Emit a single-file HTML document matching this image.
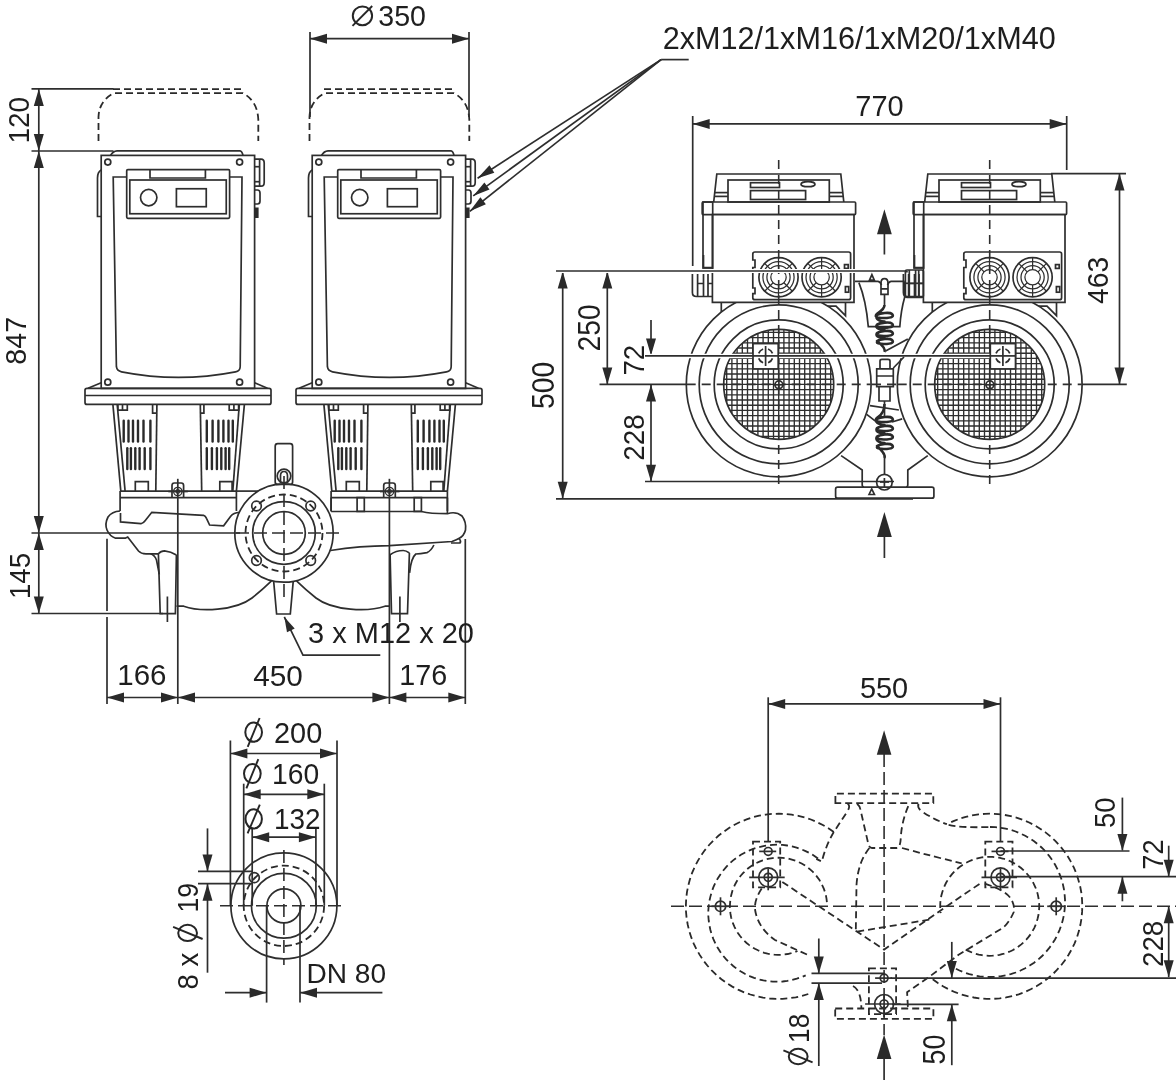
<!DOCTYPE html>
<html><head><meta charset="utf-8"><style>
html,body{margin:0;padding:0;background:#fff;}
svg{display:block;will-change:transform;}
.s{stroke:#2e2e2e;stroke-width:1.7;fill:none;}
.sf{stroke:none;fill:#2a2a2a;}
.st{stroke:#2e2e2e;stroke-width:1.25;fill:none;}
.w{stroke:#2e2e2e;stroke-width:1.7;fill:#fff;}
.d{stroke:#2a2a2a;stroke-width:1.8;fill:none;stroke-dasharray:7 4;}
.cl{stroke:#2e2e2e;stroke-width:1.6;fill:none;stroke-dasharray:13 5;}
.cl2{stroke:#2e2e2e;stroke-width:1.6;fill:none;stroke-dasharray:9 6;}
.f{fill:#2a2a2a;stroke:none;}
text{font-family:"Liberation Sans",sans-serif;fill:#1e1e1e;}
</style></head><body>
<svg width="1176" height="1080" viewBox="0 0 1176 1080">
<defs><pattern id="mesh0" width="5.2" height="5.2" patternUnits="userSpaceOnUse" x="778.6" y="384.4"><rect width="5.2" height="5.2" fill="#fff"/><path d="M0,0 H5.2 M0,0 V5.2" stroke="#1e1e1e" stroke-width="1.55" fill="none"/></pattern><pattern id="mesh211" width="5.2" height="5.2" patternUnits="userSpaceOnUse" x="778.6" y="384.4"><rect width="5.2" height="5.2" fill="#fff"/><path d="M0,0 H5.2 M0,0 V5.2" stroke="#1e1e1e" stroke-width="1.55" fill="none"/></pattern></defs>
<g transform="translate(0 0)">
<path class="d" d="M98.5,141 V117 Q99,101 113.7,93.2 H243 Q257.5,101 258.3,119.5 V141"/>
<line class="d" x1="113" y1="89.2" x2="241.5" y2="89.2"/>
<path class="s" d="M110.5,155.4 Q113,151 117,150.8 H240 Q242,151 243,155.4"/>
<rect class="s" x="101.2" y="155.4" width="153.4" height="233" rx="0"/>
<circle class="s" cx="107.8" cy="162.1" r="3"/>
<circle class="s" cx="239.6" cy="162.1" r="3"/>
<circle class="s" cx="107.8" cy="382.2" r="3"/>
<circle class="s" cx="239.6" cy="382.2" r="3"/>
<path class="s" d="M101.2,170 Q97.5,172 97.5,178 V216.5 H101.2"/>
<path class="s" d="M254.6,159.2 H261 Q264.2,159.2 264.2,163 V182.5 Q264.2,186.2 261,186.2 H254.6"/>
<line class="s" x1="259.6" y1="159.2" x2="259.6" y2="186.2"/>
<line class="s" x1="254.6" y1="166.7" x2="259.6" y2="166.7"/>
<line class="s" x1="254.6" y1="181.7" x2="259.6" y2="181.7"/>
<path class="s" d="M254.6,190 H257.5 Q260,190 260,193 V201 Q260,204 257.5,204 H254.6"/>
<rect class="sf" x="254.6" y="207.5" width="4" height="10.5" rx="0"/>
<path class="s" d="M126.7,177 H113.2 L116.4,366.7 Q117,371 121.5,371.8 Q178.3,383 235.5,371.8 Q240,371 240.2,366.7 L242,177 H229.6"/>
<rect class="s" x="126.7" y="169.6" width="102.9" height="48.7" rx="1.2"/>
<rect class="s" x="129.8" y="180" width="96.45" height="33.75" rx="0"/>
<path class="s" d="M150,169.6 V178 H205.4 V169.6"/>
<circle class="s" cx="148.7" cy="197.6" r="8.2"/>
<rect class="s" x="176.4" y="188.75" width="29.85" height="17.95" rx="0"/>
<path class="s" d="M101.2,382.8 L88,388.3"/>
<path class="s" d="M254.6,382.8 L267.5,388.3"/>
<path class="s" d="M87,388.3 H269 Q271,388.3 271,390.3 V402.4 Q271,404.4 269,404.4 H87 Q85,404.4 85,402.4 V390.3 Q85,388.3 87,388.3 Z"/>
<line class="s" x1="85" y1="395.5" x2="271" y2="395.5"/>
<line class="s" x1="112.9" y1="404.4" x2="120.8" y2="491.1"/>
<line class="s" x1="117.2" y1="404.4" x2="125.1" y2="491.1"/>
<line class="s" x1="156.9" y1="404.4" x2="155.8" y2="491.1"/>
<path class="s" d="M117.9,404.4 V410.2 H127.3 V404.4"/>
<line class="s" x1="122.5" y1="404.4" x2="122.5" y2="410.2"/>
<path class="s" d="M152.6,404.4 V413.1 H156.5"/>
<line class="s" x1="200.3" y1="404.4" x2="201.7" y2="491.1"/>
<path class="s" d="M200.3,413.1 H203.9 V404.4"/>
<path class="s" d="M229.2,404.4 V410.2 H238.6 V404.4"/>
<line class="s" x1="233.9" y1="404.4" x2="233.9" y2="410.2"/>
<line class="s" x1="239.3" y1="404.4" x2="232.8" y2="491.1"/>
<line class="s" x1="244.4" y1="404.4" x2="236.4" y2="491.1"/>
<rect class="sf" x="122.5" y="419.6" width="2.4" height="23.099999999999966" rx="1.2"/>
<rect class="sf" x="127.3" y="419.6" width="2.4" height="23.099999999999966" rx="1.2"/>
<rect class="sf" x="131.8" y="419.6" width="2.4" height="23.099999999999966" rx="1.2"/>
<rect class="sf" x="136.8" y="419.6" width="2.4" height="23.099999999999966" rx="1.2"/>
<rect class="sf" x="142.3" y="419.6" width="2.4" height="23.099999999999966" rx="1.2"/>
<rect class="sf" x="149.20000000000002" y="419.6" width="2.4" height="23.099999999999966" rx="1.2"/>
<rect class="sf" x="205.60000000000002" y="419.6" width="2.4" height="23.099999999999966" rx="1.2"/>
<rect class="sf" x="211.4" y="419.6" width="2.4" height="23.099999999999966" rx="1.2"/>
<rect class="sf" x="217.20000000000002" y="419.6" width="2.4" height="23.099999999999966" rx="1.2"/>
<rect class="sf" x="222.20000000000002" y="419.6" width="2.4" height="23.099999999999966" rx="1.2"/>
<rect class="sf" x="227.3" y="419.6" width="2.4" height="23.099999999999966" rx="1.2"/>
<rect class="sf" x="231.60000000000002" y="419.6" width="2.4" height="23.099999999999966" rx="1.2"/>
<rect class="sf" x="126.1" y="447" width="2.4" height="23.19999999999999" rx="1.2"/>
<rect class="sf" x="129.70000000000002" y="447" width="2.4" height="23.19999999999999" rx="1.2"/>
<rect class="sf" x="134.10000000000002" y="447" width="2.4" height="23.19999999999999" rx="1.2"/>
<rect class="sf" x="138.4" y="447" width="2.4" height="23.19999999999999" rx="1.2"/>
<rect class="sf" x="143.5" y="447" width="2.4" height="23.19999999999999" rx="1.2"/>
<rect class="sf" x="149.20000000000002" y="447" width="2.4" height="23.19999999999999" rx="1.2"/>
<rect class="sf" x="205.60000000000002" y="447" width="2.4" height="23.19999999999999" rx="1.2"/>
<rect class="sf" x="210.70000000000002" y="447" width="2.4" height="23.19999999999999" rx="1.2"/>
<rect class="sf" x="215.70000000000002" y="447" width="2.4" height="23.19999999999999" rx="1.2"/>
<rect class="sf" x="220.10000000000002" y="447" width="2.4" height="23.19999999999999" rx="1.2"/>
<rect class="sf" x="224.4" y="447" width="2.4" height="23.19999999999999" rx="1.2"/>
<rect class="sf" x="228.0" y="447" width="2.4" height="23.19999999999999" rx="1.2"/>
<path class="s" d="M135.3,491.1 V481.7 H148.3 V491.1"/>
<path class="s" d="M219.8,491.1 V481.7 H232.1 V491.1"/>
<line class="s" x1="120.1" y1="491.1" x2="236.4" y2="491.1"/>
<line class="s" x1="120.1" y1="497.6" x2="236.4" y2="497.6"/>
<line class="s" x1="120.1" y1="491.1" x2="120.1" y2="511"/>
<line class="s" x1="236.4" y1="491.1" x2="236.4" y2="511"/>
</g>
<g transform="translate(211 0)">
<path class="d" d="M98.5,141 V117 Q99,101 113.7,93.2 H243 Q257.5,101 258.3,119.5 V141"/>
<line class="d" x1="113" y1="89.2" x2="241.5" y2="89.2"/>
<path class="s" d="M110.5,155.4 Q113,151 117,150.8 H240 Q242,151 243,155.4"/>
<rect class="s" x="101.2" y="155.4" width="153.4" height="233" rx="0"/>
<circle class="s" cx="107.8" cy="162.1" r="3"/>
<circle class="s" cx="239.6" cy="162.1" r="3"/>
<circle class="s" cx="107.8" cy="382.2" r="3"/>
<circle class="s" cx="239.6" cy="382.2" r="3"/>
<path class="s" d="M101.2,170 Q97.5,172 97.5,178 V216.5 H101.2"/>
<path class="s" d="M254.6,159.2 H261 Q264.2,159.2 264.2,163 V182.5 Q264.2,186.2 261,186.2 H254.6"/>
<line class="s" x1="259.6" y1="159.2" x2="259.6" y2="186.2"/>
<line class="s" x1="254.6" y1="166.7" x2="259.6" y2="166.7"/>
<line class="s" x1="254.6" y1="181.7" x2="259.6" y2="181.7"/>
<path class="s" d="M254.6,190 H257.5 Q260,190 260,193 V201 Q260,204 257.5,204 H254.6"/>
<rect class="sf" x="254.6" y="207.5" width="4" height="10.5" rx="0"/>
<path class="s" d="M126.7,177 H113.2 L116.4,366.7 Q117,371 121.5,371.8 Q178.3,383 235.5,371.8 Q240,371 240.2,366.7 L242,177 H229.6"/>
<rect class="s" x="126.7" y="169.6" width="102.9" height="48.7" rx="1.2"/>
<rect class="s" x="129.8" y="180" width="96.45" height="33.75" rx="0"/>
<path class="s" d="M150,169.6 V178 H205.4 V169.6"/>
<circle class="s" cx="148.7" cy="197.6" r="8.2"/>
<rect class="s" x="176.4" y="188.75" width="29.85" height="17.95" rx="0"/>
<path class="s" d="M101.2,382.8 L88,388.3"/>
<path class="s" d="M254.6,382.8 L267.5,388.3"/>
<path class="s" d="M87,388.3 H269 Q271,388.3 271,390.3 V402.4 Q271,404.4 269,404.4 H87 Q85,404.4 85,402.4 V390.3 Q85,388.3 87,388.3 Z"/>
<line class="s" x1="85" y1="395.5" x2="271" y2="395.5"/>
<line class="s" x1="112.9" y1="404.4" x2="120.8" y2="491.1"/>
<line class="s" x1="117.2" y1="404.4" x2="125.1" y2="491.1"/>
<line class="s" x1="156.9" y1="404.4" x2="155.8" y2="491.1"/>
<path class="s" d="M117.9,404.4 V410.2 H127.3 V404.4"/>
<line class="s" x1="122.5" y1="404.4" x2="122.5" y2="410.2"/>
<path class="s" d="M152.6,404.4 V413.1 H156.5"/>
<line class="s" x1="200.3" y1="404.4" x2="201.7" y2="491.1"/>
<path class="s" d="M200.3,413.1 H203.9 V404.4"/>
<path class="s" d="M229.2,404.4 V410.2 H238.6 V404.4"/>
<line class="s" x1="233.9" y1="404.4" x2="233.9" y2="410.2"/>
<line class="s" x1="239.3" y1="404.4" x2="232.8" y2="491.1"/>
<line class="s" x1="244.4" y1="404.4" x2="236.4" y2="491.1"/>
<rect class="sf" x="122.5" y="419.6" width="2.4" height="23.099999999999966" rx="1.2"/>
<rect class="sf" x="127.3" y="419.6" width="2.4" height="23.099999999999966" rx="1.2"/>
<rect class="sf" x="131.8" y="419.6" width="2.4" height="23.099999999999966" rx="1.2"/>
<rect class="sf" x="136.8" y="419.6" width="2.4" height="23.099999999999966" rx="1.2"/>
<rect class="sf" x="142.3" y="419.6" width="2.4" height="23.099999999999966" rx="1.2"/>
<rect class="sf" x="149.20000000000002" y="419.6" width="2.4" height="23.099999999999966" rx="1.2"/>
<rect class="sf" x="205.60000000000002" y="419.6" width="2.4" height="23.099999999999966" rx="1.2"/>
<rect class="sf" x="211.4" y="419.6" width="2.4" height="23.099999999999966" rx="1.2"/>
<rect class="sf" x="217.20000000000002" y="419.6" width="2.4" height="23.099999999999966" rx="1.2"/>
<rect class="sf" x="222.20000000000002" y="419.6" width="2.4" height="23.099999999999966" rx="1.2"/>
<rect class="sf" x="227.3" y="419.6" width="2.4" height="23.099999999999966" rx="1.2"/>
<rect class="sf" x="231.60000000000002" y="419.6" width="2.4" height="23.099999999999966" rx="1.2"/>
<rect class="sf" x="126.1" y="447" width="2.4" height="23.19999999999999" rx="1.2"/>
<rect class="sf" x="129.70000000000002" y="447" width="2.4" height="23.19999999999999" rx="1.2"/>
<rect class="sf" x="134.10000000000002" y="447" width="2.4" height="23.19999999999999" rx="1.2"/>
<rect class="sf" x="138.4" y="447" width="2.4" height="23.19999999999999" rx="1.2"/>
<rect class="sf" x="143.5" y="447" width="2.4" height="23.19999999999999" rx="1.2"/>
<rect class="sf" x="149.20000000000002" y="447" width="2.4" height="23.19999999999999" rx="1.2"/>
<rect class="sf" x="205.60000000000002" y="447" width="2.4" height="23.19999999999999" rx="1.2"/>
<rect class="sf" x="210.70000000000002" y="447" width="2.4" height="23.19999999999999" rx="1.2"/>
<rect class="sf" x="215.70000000000002" y="447" width="2.4" height="23.19999999999999" rx="1.2"/>
<rect class="sf" x="220.10000000000002" y="447" width="2.4" height="23.19999999999999" rx="1.2"/>
<rect class="sf" x="224.4" y="447" width="2.4" height="23.19999999999999" rx="1.2"/>
<rect class="sf" x="228.0" y="447" width="2.4" height="23.19999999999999" rx="1.2"/>
<path class="s" d="M135.3,491.1 V481.7 H148.3 V491.1"/>
<path class="s" d="M219.8,491.1 V481.7 H232.1 V491.1"/>
<line class="s" x1="120.1" y1="491.1" x2="236.4" y2="491.1"/>
<line class="s" x1="120.1" y1="497.6" x2="236.4" y2="497.6"/>
<line class="s" x1="120.1" y1="491.1" x2="120.1" y2="511"/>
<line class="s" x1="236.4" y1="491.1" x2="236.4" y2="511"/>
</g>
<line class="s" x1="31.5" y1="88.9" x2="113.5" y2="88.9"/>
<line class="s" x1="31.5" y1="151" x2="113.5" y2="151"/>
<line class="s" x1="38.8" y1="88.9" x2="38.8" y2="151"/>
<polygon class="f" points="38.8,88.9 33.8,105.9 43.8,105.9"/>
<polygon class="f" points="38.8,151.0 33.8,134.0 43.8,134.0"/>
<line class="s" x1="38.8" y1="151" x2="38.8" y2="533"/>
<polygon class="f" points="38.8,151.0 33.8,168.0 43.8,168.0"/>
<polygon class="f" points="38.8,533.0 33.8,516.0 43.8,516.0"/>
<line class="s" x1="31.5" y1="533" x2="240" y2="533"/>
<line class="s" x1="38.8" y1="533" x2="38.8" y2="613.5"/>
<polygon class="f" points="38.8,533.0 33.8,550.0 43.8,550.0"/>
<polygon class="f" points="38.8,613.5 33.8,596.5 43.8,596.5"/>
<line class="s" x1="31.5" y1="613.5" x2="163" y2="613.5"/>
<line class="s" x1="310" y1="32" x2="310" y2="117"/>
<line class="s" x1="469" y1="32" x2="469" y2="117"/>
<line class="s" x1="310" y1="38.7" x2="469" y2="38.7"/>
<polygon class="f" points="310.0,38.7 327.0,33.7 327.0,43.7"/>
<polygon class="f" points="469.0,38.7 452.0,33.7 452.0,43.7"/>
<line class="s" x1="107" y1="538.8" x2="107" y2="611"/>
<line class="s" x1="107" y1="617" x2="107" y2="704"/>
<line class="s" x1="465.3" y1="539" x2="465.3" y2="704"/>
<line class="s" x1="107" y1="697.5" x2="465.3" y2="697.5"/>
<polygon class="f" points="107.0,697.5 124.0,692.5 124.0,702.5"/>
<polygon class="f" points="178.0,697.5 161.0,692.5 161.0,702.5"/>
<polygon class="f" points="178.0,697.5 195.0,692.5 195.0,702.5"/>
<polygon class="f" points="389.4,697.5 372.4,692.5 372.4,702.5"/>
<polygon class="f" points="389.4,697.5 406.4,692.5 406.4,702.5"/>
<polygon class="f" points="465.3,697.5 448.3,692.5 448.3,702.5"/>
<path class="s" d="M284.3,616.9 L303,655.2 H380.3"/>
<polygon class="f" points="284.3,616.9 294.7,628.5 287.0,632.3"/>
<circle class="s" cx="284" cy="533" r="49.2"/>
<circle class="d" cx="284" cy="533" r="38.5"/>
<circle class="s" cx="284" cy="533" r="31.3"/>
<circle class="s" cx="284" cy="533" r="21.3"/>
<circle class="s" cx="256.5" cy="506" r="4.8"/>
<circle class="s" cx="310.7" cy="506" r="4.8"/>
<circle class="s" cx="256.5" cy="560.5" r="4.8"/>
<circle class="s" cx="310.7" cy="560.5" r="4.8"/>
<line class="cl" x1="284" y1="476" x2="284" y2="600"/>
<line class="cl" x1="236" y1="533" x2="344" y2="533"/>
<rect class="s" x="275.2" y="443.7" width="17.4" height="40.8" rx="2.5"/>
<circle class="s" cx="284" cy="476" r="6.8"/>
<path class="s" d="M280.5,483 V476 Q280.5,471.5 284,471.5 Q287.5,471.5 287.5,476 V483"/>
<path class="s" d="M273.7,581.7 L276.6,614 H290.3 L293.2,581.7"/>
<line class="s" x1="236.4" y1="491.1" x2="258" y2="491.1"/>
<path class="s" d="M120.1,511 Q112,511.5 108,517 Q104.5,524 107,530 Q109.5,536 115.6,538.2 H125.3 L127.7,537 L138.5,551 Q141,553.8 146,553.8 H158.4"/>
<path class="s" d="M150.5,553.8 Q154.5,555 156.5,560 L159.3,574.3"/>
<path class="s" d="M158.4,553.8 Q161,550.8 164.5,550.8 Q171,551.5 176.4,555 M158.4,553.8 L160.2,613.6 H175.4 L176.4,555"/>
<path class="s" d="M120.5,512.9 V521.9 L140.9,523.7 Q143.5,523 145.1,520.7 L151.8,512.3 L203.5,515.3 Q205.5,516 206.5,518.3 L209.6,525 L223.6,525.8 L230.7,516.2 Q233.5,512.6 239.5,512.3"/>
<path class="s" d="M176.5,606.2 H183.7 C200,612 235,611 252,598 Q262,590 271.5,580.8"/>
<path class="s" d="M296.5,580.8 Q306,590 316,598 C333,611 368,612 385,606.2 H390"/>
<line class="s" x1="331.1" y1="497.6" x2="331.1" y2="511.4"/>
<line class="s" x1="447.4" y1="497.6" x2="447.4" y2="513.5"/>
<rect class="s" x="357.1" y="497.6" width="7.2" height="13.8" rx="0"/>
<rect class="s" x="414.2" y="497.6" width="7.2" height="13.8" rx="0"/>
<path class="s" d="M331.1,511.5 H421.4 Q430,513.7 447.4,513.7 Q456,511 462,516 Q466.5,522 465.5,530 Q464,536 458.9,538.5 Q461.5,541 460,543 H451"/>
<path class="s" d="M330.4,550.5 Q360,546 389.4,545.7 L452,541.5 Q456,540 458.9,538.5"/>
<path class="s" d="M433.9,545 Q431,551 427,552.6 Q420,554 415.8,554 Q411,558 409.6,572.8"/>
<path class="s" d="M390.1,554.7 Q396,550.5 403.3,550.5 Q406,550.5 409.4,553 M390.1,554.7 L391.5,613.7 H407.5 L409.4,553"/>
<path class="s" d="M172.0,497.6 V485.5 Q172.0,483 174.3,483 H181.3 Q183.60000000000002,483 183.60000000000002,485.5 V497.6"/>
<circle class="st" cx="177.8" cy="491.5" r="4.2"/>
<circle class="st" cx="177.8" cy="491.5" r="1.8"/>
<line class="s" x1="168.3" y1="491.5" x2="187.8" y2="491.5"/>
<path class="s" d="M383.7,497.6 V485.5 Q383.7,483 386.0,483 H393.0 Q395.3,483 395.3,485.5 V497.6"/>
<circle class="st" cx="389.5" cy="491.5" r="4.2"/>
<circle class="st" cx="389.5" cy="491.5" r="1.8"/>
<line class="s" x1="380.0" y1="491.5" x2="399.5" y2="491.5"/>
<line class="s" x1="177.8" y1="478.8" x2="177.8" y2="704"/>
<line class="s" x1="389.4" y1="478.8" x2="389.4" y2="704"/>
<line class="s" x1="167.4" y1="596.5" x2="167.4" y2="622"/>
<line class="s" x1="399.9" y1="596.4" x2="399.9" y2="622"/>
<line class="s" x1="661.1" y1="59.6" x2="688.7" y2="59.6"/>
<line class="s" x1="661.1" y1="59.6" x2="477.6" y2="178.2"/>
<polygon class="f" points="477.6,178.2 489.5,165.3 494.3,172.7"/>
<line class="s" x1="661.1" y1="59.6" x2="473.2" y2="195.9"/>
<polygon class="f" points="473.2,195.9 484.4,182.4 489.5,189.5"/>
<line class="s" x1="661.1" y1="59.6" x2="469.8" y2="211.3"/>
<polygon class="f" points="469.8,211.3 480.4,197.3 485.9,204.2"/>
<line class="s" x1="692.7" y1="116" x2="692.7" y2="266"/>
<line class="s" x1="1066.7" y1="116" x2="1066.7" y2="170"/>
<line class="s" x1="692.7" y1="123.9" x2="1066.7" y2="123.9"/>
<polygon class="f" points="692.7,123.9 709.7,118.9 709.7,128.9"/>
<polygon class="f" points="1066.7,123.9 1049.7,118.9 1049.7,128.9"/>
<line class="s" x1="1051" y1="173.6" x2="1126" y2="173.6"/>
<line class="s" x1="1119.5" y1="173.6" x2="1119.5" y2="384.4"/>
<polygon class="f" points="1119.5,173.6 1114.5,190.6 1124.5,190.6"/>
<polygon class="f" points="1119.5,384.4 1114.5,367.4 1124.5,367.4"/>
<line class="s" x1="556" y1="271.6" x2="907.8" y2="271.6"/>
<line class="s" x1="556" y1="498.8" x2="913" y2="498.8"/>
<line class="s" x1="562.7" y1="271.6" x2="562.7" y2="498.8"/>
<polygon class="f" points="562.7,271.6 557.7,288.6 567.7,288.6"/>
<polygon class="f" points="562.7,498.8 557.7,481.8 567.7,481.8"/>
<line class="s" x1="607.3" y1="271.6" x2="607.3" y2="384.4"/>
<polygon class="f" points="607.3,271.6 602.3,288.6 612.3,288.6"/>
<polygon class="f" points="607.3,384.4 602.3,367.4 612.3,367.4"/>
<line class="s" x1="599.5" y1="384.4" x2="692" y2="384.4"/>
<line class="cl2" x1="692" y1="384.4" x2="1066" y2="384.4"/>
<line class="s" x1="1066" y1="384.4" x2="1126.8" y2="384.4"/>
<line class="s" x1="651" y1="320" x2="651" y2="355.5"/>
<polygon class="f" points="651.0,355.5 646.0,338.5 656.0,338.5"/>
<line class="s" x1="651" y1="384.4" x2="651" y2="481.8"/>
<polygon class="f" points="651.0,384.4 646.0,401.4 656.0,401.4"/>
<polygon class="f" points="651.0,481.8 646.0,464.8 656.0,464.8"/>
<line class="s" x1="645" y1="481.5" x2="894" y2="481.5"/>
<g transform="translate(0 0)">
<path class="s" d="M721.3,302.4 V315.7 H738.3 M722,311.3 L728,311.7 L739.8,306.1 H836 L845.5,315.6 V302.4"/>
<circle class="w" cx="778.7" cy="384.4" r="92.4"/>
<circle class="s" cx="778.7" cy="384.4" r="79.5"/>
<circle class="s" cx="778.7" cy="384.4" r="64.5"/>
<line x1="686.7" y1="384.4" x2="870.7" y2="384.4" class="cl2"/>
<path d="M726.70,366.48V402.32M760.78,332.40H796.62M731.90,355.51V413.29M749.81,337.60H807.59M737.10,348.42V420.38M742.72,342.80H814.68M742.30,343.17V425.63M737.47,348.00H819.93M747.50,339.11V429.69M733.41,353.20H823.99M752.70,335.93V432.87M730.23,358.40H827.17M757.90,333.48V435.32M727.78,363.60H829.62M763.10,331.66V437.14M725.96,368.80H831.44M768.30,330.39V438.41M724.69,374.00H832.71M773.50,329.65V439.15M723.95,379.20H833.45M778.70,329.40V439.40M723.70,384.40H833.70M783.90,329.65V439.15M723.95,389.60H833.45M789.10,330.39V438.41M724.69,394.80H832.71M794.30,331.66V437.14M725.96,400.00H831.44M799.50,333.48V435.32M727.78,405.20H829.62M804.70,335.93V432.87M730.23,410.40H827.17M809.90,339.11V429.69M733.41,415.60H823.99M815.10,343.17V425.63M737.47,420.80H819.93M820.30,348.42V420.38M742.72,426.00H814.68M825.50,355.51V413.29M749.81,431.20H807.59M830.70,366.48V402.32M760.78,436.40H796.62" style="stroke:#2e2e2e;stroke-width:1.35;fill:none"/>
<circle class="s" cx="778.7" cy="384.4" r="55"/>
<circle class="w" cx="778.9000000000001" cy="384.79999999999995" r="3.9"/>
<line class="s" x1="773.7" y1="384.79999999999995" x2="783.7" y2="384.79999999999995"/>
<line class="s" x1="778.9000000000001" y1="379.4" x2="778.9000000000001" y2="389.4"/>
<path class="s" d="M713.7,202 L716.8,174 H840.8 L843.8,202"/>
<rect class="s" x="728" y="180" width="101.3" height="22" rx="0"/>
<rect class="s" x="750.5" y="182.7" width="29" height="4.8" rx="0"/>
<rect class="s" x="750.5" y="190.6" width="55.1" height="8.9" rx="0"/>
<ellipse class="s" cx="808" cy="184.2" rx="7" ry="2.5"/>
<line class="s" x1="714" y1="192.6" x2="728" y2="192.6"/>
<line class="s" x1="714" y1="196.4" x2="728" y2="196.4"/>
<line class="s" x1="829.3" y1="192.6" x2="843" y2="192.6"/>
<line class="s" x1="829.3" y1="196.4" x2="843" y2="196.4"/>
<rect class="s" x="702.2" y="202" width="153.4" height="12.6" rx="1"/>
<path class="w" d="M712.4,214.6 V302.4 H854 V214.6 Z"/>
<rect class="s" x="703" y="202" width="9.7" height="66" rx="0"/>
<path class="s" d="M755,252 H848.6 Q850.6,252 850.6,254 V297.7 Q850.6,299.7 848.6,299.7 H755 Q752.8,299.7 752.8,297.7 V293.6 H755 V288 H752.8 V267.5 H755 V260 H752.8 V254 Q752.8,252 755,252 Z"/>
<rect class="s" x="844.5" y="264.6" width="3.7" height="3.8" rx="0"/>
<rect class="s" x="845.4" y="286.6" width="3.3" height="5.6" rx="0"/>
<circle class="s" cx="778.5" cy="277.3" r="19.6"/>
<circle class="st" cx="778.5" cy="277.3" r="15.6"/>
<circle class="st" cx="778.5" cy="277.3" r="11.6"/>
<circle class="st" cx="778.5" cy="277.3" r="7.7"/>
<line class="st" x1="783.9" y1="282.7" x2="792.4" y2="291.2"/>
<line class="st" x1="778.5" y1="285.0" x2="778.5" y2="296.9"/>
<line class="st" x1="773.1" y1="282.7" x2="764.6" y2="291.2"/>
<line class="st" x1="773.1" y1="271.9" x2="764.6" y2="263.4"/>
<line class="st" x1="778.5" y1="269.6" x2="778.5" y2="257.7"/>
<line class="st" x1="783.9" y1="271.9" x2="792.4" y2="263.4"/>
<circle class="s" cx="821.6" cy="277.3" r="19.6"/>
<circle class="st" cx="821.6" cy="277.3" r="15.6"/>
<circle class="st" cx="821.6" cy="277.3" r="11.6"/>
<circle class="st" cx="821.6" cy="277.3" r="7.7"/>
<line class="st" x1="827.0" y1="282.7" x2="835.5" y2="291.2"/>
<line class="st" x1="821.6" y1="285.0" x2="821.6" y2="296.9"/>
<line class="st" x1="816.2" y1="282.7" x2="807.7" y2="291.2"/>
<line class="st" x1="816.2" y1="271.9" x2="807.7" y2="263.4"/>
<line class="st" x1="821.6" y1="269.6" x2="821.6" y2="257.7"/>
<line class="st" x1="827.0" y1="271.9" x2="835.5" y2="263.4"/>
<line class="cl2" x1="778.7" y1="160" x2="778.7" y2="490"/>
<path class="s" d="M692.4,273.9 V292.5 Q692.4,296.5 696.4,296.5 H712.4 M697.6,273.9 V296.5 M703.5,273.9 V296.5 M708,273.9 V296.5 M697.6,283.5 H703.5 M708,283.5 H712.4"/>
<path class="s" d="M703.5,255 V267.6 H712.4"/>
</g>
<g transform="translate(211 0)">
<path class="s" d="M721.3,302.4 V315.7 H738.3 M722,311.3 L728,311.7 L739.8,306.1 H836 L845.5,315.6 V302.4"/>
<circle class="w" cx="778.7" cy="384.4" r="92.4"/>
<circle class="s" cx="778.7" cy="384.4" r="79.5"/>
<circle class="s" cx="778.7" cy="384.4" r="64.5"/>
<line x1="686.7" y1="384.4" x2="870.7" y2="384.4" class="cl2"/>
<path d="M726.70,366.48V402.32M760.78,332.40H796.62M731.90,355.51V413.29M749.81,337.60H807.59M737.10,348.42V420.38M742.72,342.80H814.68M742.30,343.17V425.63M737.47,348.00H819.93M747.50,339.11V429.69M733.41,353.20H823.99M752.70,335.93V432.87M730.23,358.40H827.17M757.90,333.48V435.32M727.78,363.60H829.62M763.10,331.66V437.14M725.96,368.80H831.44M768.30,330.39V438.41M724.69,374.00H832.71M773.50,329.65V439.15M723.95,379.20H833.45M778.70,329.40V439.40M723.70,384.40H833.70M783.90,329.65V439.15M723.95,389.60H833.45M789.10,330.39V438.41M724.69,394.80H832.71M794.30,331.66V437.14M725.96,400.00H831.44M799.50,333.48V435.32M727.78,405.20H829.62M804.70,335.93V432.87M730.23,410.40H827.17M809.90,339.11V429.69M733.41,415.60H823.99M815.10,343.17V425.63M737.47,420.80H819.93M820.30,348.42V420.38M742.72,426.00H814.68M825.50,355.51V413.29M749.81,431.20H807.59M830.70,366.48V402.32M760.78,436.40H796.62" style="stroke:#2e2e2e;stroke-width:1.35;fill:none"/>
<circle class="s" cx="778.7" cy="384.4" r="55"/>
<circle class="w" cx="778.9000000000001" cy="384.79999999999995" r="3.9"/>
<line class="s" x1="773.7" y1="384.79999999999995" x2="783.7" y2="384.79999999999995"/>
<line class="s" x1="778.9000000000001" y1="379.4" x2="778.9000000000001" y2="389.4"/>
<path class="s" d="M713.7,202 L716.8,174 H840.8 L843.8,202"/>
<rect class="s" x="728" y="180" width="101.3" height="22" rx="0"/>
<rect class="s" x="750.5" y="182.7" width="29" height="4.8" rx="0"/>
<rect class="s" x="750.5" y="190.6" width="55.1" height="8.9" rx="0"/>
<ellipse class="s" cx="808" cy="184.2" rx="7" ry="2.5"/>
<line class="s" x1="714" y1="192.6" x2="728" y2="192.6"/>
<line class="s" x1="714" y1="196.4" x2="728" y2="196.4"/>
<line class="s" x1="829.3" y1="192.6" x2="843" y2="192.6"/>
<line class="s" x1="829.3" y1="196.4" x2="843" y2="196.4"/>
<rect class="s" x="702.2" y="202" width="153.4" height="12.6" rx="1"/>
<path class="w" d="M712.4,214.6 V302.4 H854 V214.6 Z"/>
<rect class="s" x="703" y="202" width="9.7" height="66" rx="0"/>
<path class="s" d="M755,252 H848.6 Q850.6,252 850.6,254 V297.7 Q850.6,299.7 848.6,299.7 H755 Q752.8,299.7 752.8,297.7 V293.6 H755 V288 H752.8 V267.5 H755 V260 H752.8 V254 Q752.8,252 755,252 Z"/>
<rect class="s" x="844.5" y="264.6" width="3.7" height="3.8" rx="0"/>
<rect class="s" x="845.4" y="286.6" width="3.3" height="5.6" rx="0"/>
<circle class="s" cx="778.5" cy="277.3" r="19.6"/>
<circle class="st" cx="778.5" cy="277.3" r="15.6"/>
<circle class="st" cx="778.5" cy="277.3" r="11.6"/>
<circle class="st" cx="778.5" cy="277.3" r="7.7"/>
<line class="st" x1="783.9" y1="282.7" x2="792.4" y2="291.2"/>
<line class="st" x1="778.5" y1="285.0" x2="778.5" y2="296.9"/>
<line class="st" x1="773.1" y1="282.7" x2="764.6" y2="291.2"/>
<line class="st" x1="773.1" y1="271.9" x2="764.6" y2="263.4"/>
<line class="st" x1="778.5" y1="269.6" x2="778.5" y2="257.7"/>
<line class="st" x1="783.9" y1="271.9" x2="792.4" y2="263.4"/>
<circle class="s" cx="821.6" cy="277.3" r="19.6"/>
<circle class="st" cx="821.6" cy="277.3" r="15.6"/>
<circle class="st" cx="821.6" cy="277.3" r="11.6"/>
<circle class="st" cx="821.6" cy="277.3" r="7.7"/>
<line class="st" x1="827.0" y1="282.7" x2="835.5" y2="291.2"/>
<line class="st" x1="821.6" y1="285.0" x2="821.6" y2="296.9"/>
<line class="st" x1="816.2" y1="282.7" x2="807.7" y2="291.2"/>
<line class="st" x1="816.2" y1="271.9" x2="807.7" y2="263.4"/>
<line class="st" x1="821.6" y1="269.6" x2="821.6" y2="257.7"/>
<line class="st" x1="827.0" y1="271.9" x2="835.5" y2="263.4"/>
<line class="cl2" x1="778.7" y1="160" x2="778.7" y2="490"/>
<path class="s" d="M692.4,273.9 V292.5 Q692.4,296.5 696.4,296.5 H712.4 M697.6,273.9 V296.5 M703.5,273.9 V296.5 M708,273.9 V296.5 M697.6,283.5 H703.5 M708,283.5 H712.4"/>
<path class="s" d="M703.5,255 V267.6 H712.4"/>
</g>
<line x1="645" y1="355.9" x2="1014" y2="355.9" style="stroke:#fff;stroke-width:4.5"/>
<line class="s" x1="645" y1="355.9" x2="1014" y2="355.9"/>
<rect class="w" x="753" y="343.6" width="25.2" height="25.3" rx="0"/>
<path class="s" d="M758.7,353.4 A7.3,7.3 0 0 1 763.1,349.0"/>
<path class="s" d="M768.1,349.0 A7.3,7.3 0 0 1 772.5,353.4"/>
<path class="s" d="M763.1,362.8 A7.3,7.3 0 0 1 758.7,358.4"/>
<path class="s" d="M772.5,358.4 A7.3,7.3 0 0 1 768.1,362.8"/>
<line class="s" x1="765.6" y1="346" x2="765.6" y2="366"/>
<line class="s" x1="753" y1="355.9" x2="778.2" y2="355.9"/>
<rect class="w" x="990.3" y="343.6" width="25.2" height="25.3" rx="0"/>
<path class="s" d="M996.0,353.4 A7.3,7.3 0 0 1 1000.4,349.0"/>
<path class="s" d="M1005.4,349.0 A7.3,7.3 0 0 1 1009.8,353.4"/>
<path class="s" d="M1000.4,362.8 A7.3,7.3 0 0 1 996.0,358.4"/>
<path class="s" d="M1009.8,358.4 A7.3,7.3 0 0 1 1005.4,362.8"/>
<line class="s" x1="1002.9" y1="346" x2="1002.9" y2="366"/>
<line class="s" x1="990.3" y1="355.9" x2="1015.5" y2="355.9"/>
<line x1="556" y1="271" x2="905.4" y2="271" style="stroke:#fff;stroke-width:4.2"/>
<line class="s" x1="556" y1="271" x2="905.4" y2="271"/>
<path class="s" d="M855,281.4 H877.8 Q880,281.4 881.5,285 M887.5,285 Q889,281.4 891.2,281.4 H904.6"/>
<path class="s" d="M858.9,282.6 Q866,300 868.3,326.7 H899.8 Q901,310 904.6,297.5 V281.4"/>
<path class="s" d="M869.5,280.2 L871.9,274.7 L874.3,280.2 Z"/>
<path class="s" d="M881,288.9 V283 Q881,278.6 884.5,278.6 Q888,278.6 888,283 V294.4 H881 Z M881,288.9 H888"/>
<rect class="s" x="905.4" y="270" width="18" height="27.5" rx="1.5"/>
<line class="s" x1="909.3" y1="270" x2="909.3" y2="297.5"/>
<line class="s" x1="915.6" y1="270" x2="915.6" y2="297.5"/>
<line class="s" x1="918.7" y1="270" x2="918.7" y2="297.5"/>
<line class="s" x1="905.4" y1="283.3" x2="923.5" y2="283.3"/>
<line class="s" x1="884.5" y1="294.4" x2="884.5" y2="305"/>
<path d="M884.5,305 Q884.5,309 878,313 C874,316 875,318 884,318 C893,318 894,316 892,314 C890,312 880,313 877,315 C874,319.8 882,321.6 884.5,321.6 C874,325.6 875,327.6 884,327.6 C893,327.6 894,325.6 892,323.6 C890,321.6 880,322.6 877,324.6 C874,328.8 882,330 884.5,330 C874,334 875,336 884,336 C893,336 894,334 892,332 C890,330 880,331 877,333 C874,337.0 882,338 884.5,338 C874,342 875,344 884,344 C893,344 894,342 892,340 C890,338 880,339 877,341 Q886,348 884.5,352" style="stroke:#2a2a2a;stroke-width:2.6;fill:none;stroke-linejoin:round"/>
<path d="M884.5,404 Q884.5,413 878,417 C874,420 875,422 884,422 C893,422 894,420 892,418 C890,416 880,417 877,419 C874,423.5 882,425 884.5,425 C874,429 875,431 884,431 C893,431 894,429 892,427 C890,425 880,426 877,428 C874,432.25 882,433.5 884.5,433.5 C874,437.5 875,439.5 884,439.5 C893,439.5 894,437.5 892,435.5 C890,433.5 880,434.5 877,436.5 C874,441.25 882,443 884.5,443 C874,447 875,449 884,449 C893,449 894,447 892,445 C890,443 880,444 877,446 Q886,454 884.5,458" style="stroke:#2a2a2a;stroke-width:2.6;fill:none;stroke-linejoin:round"/>
<path class="s" d="M880,368.9 V361 Q880,359.4 882,359.4 H888 Q890,359.4 890,361 V368.9 M876.7,368.9 H893.3 V386.7 H876.7 Z M879,386.7 V401 H890 V386.7 M876.7,376 H893.3"/>
<path class="s" d="M885.6,351 L907.8,338.9 M893.3,368 L904,357"/>
<path class="s" d="M870,405.6 L898.9,410 M866.7,414.4 L876.7,422.2 M892,422 L902.2,418.9"/>
<line class="s" x1="884.5" y1="401" x2="884.5" y2="416"/>
<line class="s" x1="884.5" y1="456" x2="884.5" y2="474.5"/>
<circle class="s" cx="884.4" cy="482.2" r="7.8"/>
<line class="s" x1="880" y1="482" x2="889" y2="482"/>
<line class="s" x1="884.4" y1="478" x2="884.4" y2="487"/>
<path class="s" d="M841.1,455.6 L862.2,470 V484.5 Q862.2,487.2 864,487.2 M927.8,455.6 L907.8,470 V484.5 Q907.8,487.2 906,487.2"/>
<rect class="s" x="835.6" y="487.2" width="98.3" height="11" rx="2"/>
<path class="s" d="M869,494.5 L871.7,489 L874.4,494.5 Z"/>
<line class="s" x1="884.4" y1="230" x2="884.4" y2="254.5"/>
<polygon class="f" points="884.4,209.2 877.0,234.2 891.8,234.2"/>
<line class="s" x1="884.4" y1="533" x2="884.4" y2="558"/>
<polygon class="f" points="884.4,512.0 877.0,537.0 891.8,537.0"/>
<circle class="s" cx="283.9" cy="905.8" r="53"/>
<circle class="d" cx="283.9" cy="905.8" r="40.2"/>
<circle class="s" cx="283.9" cy="905.8" r="32.4"/>
<circle class="s" cx="283.9" cy="905.8" r="17"/>
<circle class="s" cx="254.3" cy="877.7" r="5"/>
<line class="cl" x1="283.9" y1="850" x2="283.9" y2="965"/>
<line class="cl" x1="220" y1="905.8" x2="345" y2="905.8"/>
<line class="s" x1="230.4" y1="740.5" x2="230.4" y2="905.8"/>
<line class="s" x1="337" y1="740.5" x2="337" y2="905.8"/>
<line class="s" x1="230.4" y1="753.5" x2="337" y2="753.5"/>
<polygon class="f" points="230.4,753.5 247.4,748.5 247.4,758.5"/>
<polygon class="f" points="337.0,753.5 320.0,748.5 320.0,758.5"/>
<line class="s" x1="243.7" y1="783.7" x2="243.7" y2="905.8"/>
<line class="s" x1="324.3" y1="783.7" x2="324.3" y2="905.8"/>
<line class="s" x1="243.7" y1="794.3" x2="324.3" y2="794.3"/>
<polygon class="f" points="243.7,794.3 260.7,789.3 260.7,799.3"/>
<polygon class="f" points="324.3,794.3 307.3,789.3 307.3,799.3"/>
<line class="s" x1="252.2" y1="828.4" x2="252.2" y2="905.8"/>
<line class="s" x1="315.9" y1="828.4" x2="315.9" y2="905.8"/>
<line class="s" x1="252.2" y1="837.2" x2="315.9" y2="837.2"/>
<polygon class="f" points="252.2,837.2 269.2,832.2 269.2,842.2"/>
<polygon class="f" points="315.9,837.2 298.9,832.2 298.9,842.2"/>
<line class="s" x1="198" y1="871.4" x2="253" y2="871.4"/>
<line class="s" x1="198" y1="883.7" x2="253" y2="883.7"/>
<line class="s" x1="207.5" y1="828.4" x2="207.5" y2="871.4"/>
<polygon class="f" points="207.5,871.4 202.5,854.4 212.5,854.4"/>
<line class="s" x1="207.5" y1="883.7" x2="207.5" y2="972.7"/>
<polygon class="f" points="207.5,883.7 202.5,900.7 212.5,900.7"/>
<line class="s" x1="266.6" y1="905.8" x2="266.6" y2="1002.6"/>
<line class="s" x1="300" y1="905.8" x2="300" y2="1002.6"/>
<line class="s" x1="225" y1="992.7" x2="266.6" y2="992.7"/>
<polygon class="f" points="266.6,992.7 249.6,987.7 249.6,997.7"/>
<line class="s" x1="300" y1="992.7" x2="382.4" y2="992.7"/>
<polygon class="f" points="300.0,992.7 317.0,987.7 317.0,997.7"/>
<line class="s" x1="768.2" y1="697.3" x2="768.2" y2="841.7"/>
<line class="s" x1="1000.5" y1="697.3" x2="1000.5" y2="841.7"/>
<line class="s" x1="768.2" y1="703.9" x2="1000.5" y2="703.9"/>
<polygon class="f" points="768.2,703.9 785.2,698.9 785.2,708.9"/>
<polygon class="f" points="1000.5,703.9 983.5,698.9 983.5,708.9"/>
<line class="cl" x1="884.1" y1="754" x2="884.1" y2="1035"/>
<polygon class="f" points="884.1,730.2 876.8,754.7 891.4,754.7"/>
<line class="s" x1="884.1" y1="1058" x2="884.1" y2="1080"/>
<polygon class="f" points="884.1,1034.6 876.8,1059.1 891.4,1059.1"/>
<line class="cl" x1="671" y1="906.3" x2="1176" y2="906.3"/>
<path class="d" d="M833.8,832.1 L828.4,828.3 L822.8,825.0 L816.9,822.1 L810.9,819.5 L804.6,817.5 L798.3,815.8 L791.8,814.7 L785.3,814.0 L778.8,813.7 L772.2,813.9 L765.7,814.6 L759.2,815.7 L752.8,817.3 L746.6,819.4 L740.5,821.8 L734.6,824.7 L729.0,828.1 L723.6,831.8 L718.4,835.8 L713.6,840.3 L709.1,845.0 L704.9,850.1 L701.1,855.4 L697.7,861.1 L694.7,866.9 L692.1,872.9 L690.0,879.1 L688.3,885.5 L687.0,891.9 L686.2,898.4 L685.9,905.0 L686.0,911.5 L686.6,918.1 L687.7,924.5 L689.2,930.9 L691.2,937.2 L693.6,943.3 L696.4,949.2 L699.7,954.9 L703.3,960.4 L707.3,965.5 L711.7,970.4 L716.4,975.0 L721.4,979.2 L726.7,983.1 L732.3,986.6 L738.1,989.6 L744.1,992.3 L750.3,994.5 L756.6,996.3 L763.0,997.6 L769.5,998.5 L776.1,998.9 L782.6,998.8 L789.2,998.3 L795.7,997.3 L802.1,995.9 L808.3,994.0"/>
<path class="d" d="M818.0,858.5 L814.1,855.7 L809.9,853.2 L805.6,851.1 L801.2,849.2 L796.6,847.6 L792.0,846.4 L787.2,845.5 L782.5,844.9 L777.6,844.7 L772.8,844.8 L768.0,845.3 L763.3,846.1 L758.6,847.2 L754.0,848.6 L749.5,850.4 L745.1,852.5 L740.9,854.8 L736.9,857.5 L733.1,860.4 L729.5,863.6 L726.1,867.1 L723.0,870.8 L720.2,874.7 L717.6,878.7 L715.3,883.0 L713.3,887.4 L711.7,891.9 L710.4,896.6 L709.3,901.3 L708.7,906.0 L708.3,910.8 L708.3,915.7 L708.7,920.5 L709.4,925.3 L710.4,930.0 L711.7,934.6 L713.4,939.1 L715.4,943.5 L717.7,947.8 L720.2,951.8 L723.1,955.7 L726.2,959.4 L729.6,962.8 L733.2,966.0 L737.0,969.0 L741.0,971.6 L745.2,974.0 L749.6,976.1 L754.1,977.8 L758.7,979.3 L763.4,980.4 L768.1,981.1 L772.9,981.6 L777.8,981.7 L782.6,981.5 L787.4,980.9 L792.1,980.0 L796.8,978.7 L801.3,977.2 L805.7,975.3"/>
<path class="d" d="M826.9,902.1 L826.5,898.7 L825.9,895.4 L825.0,892.1 L823.9,888.9 L822.5,885.8 L821.0,882.7 L819.3,879.8 L817.3,877.1 L815.2,874.4 L812.9,871.9 L810.4,869.6 L807.7,867.5 L805.0,865.5 L802.1,863.8 L799.0,862.3 L795.9,860.9 L792.7,859.8 L789.4,858.9 L786.1,858.3 L782.7,857.9 L779.3,857.7 L776.0,857.8 L772.6,858.1 L769.2,858.6 L765.9,859.4 L762.7,860.3 L759.5,861.6 L756.4,863.0 L753.5,864.6 L750.6,866.5 L747.9,868.5 L745.4,870.8 L743.0,873.2 L740.7,875.7 L738.7,878.4 L736.8,881.3 L735.2,884.2 L733.8,887.3 L732.5,890.5 L731.6,893.7 L730.8,897.0 L730.3,900.4 L730.0,903.8 L729.9,907.1 L730.1,910.5 L730.5,913.9 L731.1,917.2 L732.0,920.5 L733.1,923.7 L734.5,926.8 L736.0,929.9 L737.7,932.8 L739.7,935.5 L741.8,938.2 L744.1,940.7 L746.6,943.0 L749.3,945.1 L752.0,947.1 L754.9,948.8 L758.0,950.3 L761.1,951.7 L764.3,952.8 L767.6,953.7 L770.9,954.3 L774.3,954.7 L777.7,954.9 L781.0,954.8 L784.4,954.5 L787.8,954.0 L791.1,953.2 L794.3,952.3 L797.5,951.0"/>
<path class="d" d="M761.7,888.5 Q754,900 755.1,910 Q758,928 775,940 L807.5,954.8"/>
<path class="d" d="M782.3,882 L884.1,949.6 L955.9,900 L982.3,882"/>
<path class="d" d="M869.4,848 Q858,862 856.5,885 L855.8,931.8 L929.7,919.6"/>
<path class="d" d="M847.6,803.8 Q851,806 847,812 L834,831.7 Q826,845 821.8,861.6 L816.3,858.9"/>
<path class="d" d="M857.1,803.8 Q860,806 861,812 L868,842.6 Q869,848 872,848 H897 Q900.5,848 900.9,836 Q902,820 909.3,803.8"/>
<path class="d" d="M918.4,803.8 Q917,808 922.4,811.8 Q935,820 946.9,824.2"/>
<path class="d" d="M902,848 Q935,857 961.7,863.3"/>
<path class="d" d="M835.4,803.1 V793.6 H933.3 V803.1 Z"/>
<path class="d" d="M932.7,979.3 L937.9,983.1 L943.4,986.5 L949.2,989.6 L955.1,992.2 L961.2,994.4 L967.5,996.2 L973.8,997.5 L980.2,998.4 L986.7,998.9 L993.2,998.8 L999.7,998.4 L1006.1,997.4 L1012.4,996.1 L1018.7,994.3 L1024.8,992.0 L1030.7,989.3 L1036.4,986.3 L1041.9,982.8 L1047.1,979.0 L1052.1,974.8 L1056.7,970.2 L1061.0,965.4 L1065.0,960.2 L1068.6,954.8 L1071.8,949.2 L1074.6,943.3 L1077.0,937.3 L1078.9,931.1 L1080.4,924.8 L1081.5,918.4 L1082.1,911.9 L1082.3,905.5 L1082.0,899.0 L1081.3,892.5 L1080.1,886.1 L1078.4,879.9 L1076.4,873.7 L1073.9,867.7 L1071.0,861.9 L1067.7,856.3 L1064.0,851.0 L1059.9,845.9 L1055.5,841.2 L1050.8,836.7 L1045.8,832.6 L1040.5,828.9 L1034.9,825.5 L1029.1,822.5 L1023.2,820.0 L1017.1,817.8 L1010.8,816.1 L1004.4,814.9 L998.0,814.1 L991.5,813.7 L985.0,813.8 L978.5,814.4 L972.1,815.4 L965.8,816.8 L959.6,818.7 L953.5,821.1 L947.7,823.8"/>
<path class="d" d="M948.6,824.9 Q962,828 990,827"/>
<path class="d" d="M990.0,827.0 L995.2,827.2 L1000.4,827.7 L1005.6,828.6 L1010.7,829.9 L1015.7,831.5 L1020.5,833.5 L1025.2,835.8 L1029.7,838.4 L1034.1,841.3 L1038.2,844.5 L1042.1,848.0 L1045.7,851.8 L1049.1,855.8 L1052.2,860.1 L1055.0,864.5 L1057.4,869.1 L1059.5,873.9 L1061.3,878.8 L1062.8,883.9 L1063.9,889.0 L1064.6,894.2 L1065.0,899.4 L1065.0,904.6 L1064.6,909.8 L1063.9,915.0 L1062.8,920.1 L1061.3,925.2 L1059.5,930.1 L1057.4,934.9 L1055.0,939.5 L1052.2,943.9 L1049.1,948.2 L1045.7,952.2 L1042.1,956.0 L1038.2,959.5 L1034.1,962.7 L1029.7,965.6 L1025.2,968.2 L1020.5,970.5 L1015.7,972.5 L1010.7,974.1 L1005.6,975.4 L1000.4,976.3 L995.2,976.8 L990.0,977.0 L984.8,976.8 L979.6,976.3 L974.4,975.4 L969.3,974.1 L964.3,972.5 L959.5,970.5 L954.8,968.2"/>
<path class="d" d="M965.7,949.6 L968.8,951.2 L972.0,952.5 L975.3,953.7 L978.7,954.6 L982.1,955.2 L985.6,955.6 L989.1,955.8 L992.6,955.7 L996.0,955.4 L999.5,954.8 L1002.9,954.0 L1006.2,953.0 L1009.4,951.7 L1012.6,950.2 L1015.6,948.5 L1018.5,946.5 L1021.3,944.4 L1023.9,942.1 L1026.3,939.6 L1028.6,936.9 L1030.7,934.1 L1032.5,931.1 L1034.2,928.1 L1035.6,924.9 L1036.8,921.6 L1037.7,918.3 L1038.5,914.8 L1038.9,911.4 L1039.2,907.9 L1039.2,904.4 L1038.9,900.9 L1038.4,897.5 L1037.7,894.1 L1036.7,890.7 L1035.5,887.5 L1034.0,884.3 L1032.4,881.2 L1030.5,878.3 L1028.4,875.5 L1026.1,872.8 L1023.7,870.3 L1021.1,868.0 L1018.3,865.9 L1015.4,864.0 L1012.3,862.3 L1009.2,860.8 L1005.9,859.5 L1002.6,858.5 L999.2,857.7 L995.8,857.2 L992.3,856.9 L988.8,856.8 L985.3,857.0 L981.8,857.4 L978.4,858.1 L975.1,859.0 L971.8,860.2 L968.6,861.5 L965.5,863.1 L962.5,865.0 L959.6,867.0 L956.9,869.2 L954.4,871.6 L952.0,874.2 L949.9,876.9 L947.9,879.8 L946.1,882.8 L944.6,885.9 L943.3,889.1 L942.2,892.5 L941.3,895.8 L940.7,899.3 L940.3,902.7 L940.2,906.2 L940.3,909.7 L940.7,913.2"/>
<path class="d" d="M984.8,883.7 Q1005,890 1011,898.7 Q1015,906 1013.8,912 Q1008,925 1001.6,928.6 L958.6,954.8 L928.6,977.3 L907.1,992.3 L908,1009"/>
<path class="d" d="M853,986 Q861,990 861.4,1008.5"/>
<path class="d" d="M835.2,1008.5 H933.4 V1018.8 H835.2 Z"/>
<circle class="s" cx="720.5" cy="906.3" r="5.2"/>
<line class="s" x1="711.5" y1="906.3" x2="729.5" y2="906.3"/>
<line class="s" x1="720.5" y1="897.3" x2="720.5" y2="915.3"/>
<circle class="s" cx="1056.2" cy="906.3" r="5.2"/>
<line class="s" x1="1047.2" y1="906.3" x2="1065.2" y2="906.3"/>
<line class="s" x1="1056.2" y1="897.3" x2="1056.2" y2="915.3"/>
<circle class="s" cx="768.2" cy="877.3" r="9.5"/>
<circle class="s" cx="768.2" cy="877.3" r="4"/>
<line class="s" x1="749.2" y1="877.3" x2="784.7" y2="877.3"/>
<line class="s" x1="768.2" y1="868.3" x2="768.2" y2="890.3"/>
<circle class="s" cx="1000.5" cy="877.3" r="9.5"/>
<circle class="s" cx="1000.5" cy="877.3" r="4"/>
<line class="s" x1="981.5" y1="877.3" x2="1017.0" y2="877.3"/>
<line class="s" x1="1000.5" y1="868.3" x2="1000.5" y2="890.3"/>
<circle class="s" cx="884.1" cy="1004" r="9.5"/>
<circle class="s" cx="884.1" cy="1004" r="4"/>
<line class="s" x1="865.1" y1="1004" x2="900.6" y2="1004"/>
<line class="s" x1="884.1" y1="995" x2="884.1" y2="1017"/>
<circle class="s" cx="768.2" cy="851.4" r="3.9"/>
<line class="s" x1="759.2" y1="851.4" x2="776.2" y2="851.4"/>
<circle class="s" cx="1000.5" cy="851.4" r="3.9"/>
<line class="s" x1="991.5" y1="851.4" x2="1008.5" y2="851.4"/>
<circle class="s" cx="884.1" cy="978.1" r="3.9"/>
<line class="s" x1="875.1" y1="978.1" x2="892.1" y2="978.1"/>
<rect class="d" x="753.0" y="841.6999999999999" width="27.2" height="45.7" rx="0"/>
<rect class="d" x="985.3" y="841.6999999999999" width="27.2" height="45.7" rx="0"/>
<rect class="d" x="868.9" y="968.4" width="27.2" height="45.7" rx="0"/>
<line class="s" x1="1000.5" y1="851" x2="1129.5" y2="851"/>
<line class="s" x1="1000.5" y1="876.7" x2="1176" y2="876.7"/>
<line class="s" x1="1122.4" y1="797.6" x2="1122.4" y2="850.4"/>
<polygon class="f" points="1122.4,850.9 1117.4,833.9 1127.4,833.9"/>
<line class="s" x1="1122.4" y1="876.7" x2="1122.4" y2="901.3"/>
<polygon class="f" points="1122.4,876.7 1117.4,893.7 1127.4,893.7"/>
<line class="s" x1="1168.7" y1="845.7" x2="1168.7" y2="876.7"/>
<polygon class="f" points="1168.7,876.7 1163.7,859.7 1173.7,859.7"/>
<line class="s" x1="1168.7" y1="906.3" x2="1168.7" y2="977.2"/>
<polygon class="f" points="1168.7,906.3 1163.7,923.3 1173.7,923.3"/>
<polygon class="f" points="1168.7,977.2 1163.7,960.2 1173.7,960.2"/>
<line class="s" x1="890.5" y1="978.1" x2="1176" y2="978.1"/>
<line class="s" x1="811.5" y1="973.4" x2="884.6" y2="973.4"/>
<line class="s" x1="811.5" y1="983.1" x2="882" y2="983.1"/>
<line class="s" x1="818.8" y1="938.5" x2="818.8" y2="973.4"/>
<polygon class="f" points="818.8,973.4 813.8,956.4 823.8,956.4"/>
<line class="s" x1="818.8" y1="983.1" x2="818.8" y2="1066"/>
<polygon class="f" points="818.8,983.1 813.8,1000.1 823.8,1000.1"/>
<line class="s" x1="951.8" y1="941.9" x2="951.8" y2="978.1"/>
<polygon class="f" points="951.8,978.1 946.8,961.1 956.8,961.1"/>
<line class="s" x1="892" y1="1004.3" x2="958.6" y2="1004.3"/>
<line class="s" x1="951.8" y1="1004.3" x2="951.8" y2="1065.2"/>
<polygon class="f" points="951.8,1004.3 946.8,1021.3 956.8,1021.3"/>
<text x="117.30" y="684.90" font-size="30.09" textLength="49.21" lengthAdjust="spacingAndGlyphs">166</text>
<text x="253.30" y="685.80" font-size="29.51" textLength="49.61" lengthAdjust="spacingAndGlyphs">450</text>
<text x="399.20" y="684.80" font-size="29.80" textLength="47.91" lengthAdjust="spacingAndGlyphs">176</text>
<text x="308.10" y="643.30" font-size="29.23" textLength="165.80" lengthAdjust="spacingAndGlyphs">3 x M12 x 20</text>
<text x="662.70" y="49.10" font-size="30.95" textLength="393.01" lengthAdjust="spacingAndGlyphs">2xM12/1xM16/1xM20/1xM40</text>
<text x="855.30" y="116.00" font-size="30.23" textLength="48.31" lengthAdjust="spacingAndGlyphs">770</text>
<text x="306.50" y="982.90" font-size="28.51" textLength="79.61" lengthAdjust="spacingAndGlyphs">DN 80</text>
<text x="859.90" y="697.50" font-size="30.09" textLength="48.21" lengthAdjust="spacingAndGlyphs">550</text>
<text x="29.40" y="143.60" font-size="29.37" textLength="46.71" lengthAdjust="spacingAndGlyphs" transform="rotate(-90 29.40 143.60)">120</text>
<text x="26.40" y="364.70" font-size="29.80" textLength="47.81" lengthAdjust="spacingAndGlyphs" transform="rotate(-90 26.40 364.70)">847</text>
<text x="29.80" y="599.00" font-size="29.66" textLength="46.01" lengthAdjust="spacingAndGlyphs" transform="rotate(-90 29.80 599.00)">145</text>
<text x="1107.90" y="303.90" font-size="30.23" textLength="47.01" lengthAdjust="spacingAndGlyphs" transform="rotate(-90 1107.90 303.90)">463</text>
<text x="553.70" y="409.00" font-size="30.66" textLength="47.31" lengthAdjust="spacingAndGlyphs" transform="rotate(-90 553.70 409.00)">500</text>
<text x="600.00" y="351.50" font-size="31.09" textLength="47.21" lengthAdjust="spacingAndGlyphs" transform="rotate(-90 600.00 351.50)">250</text>
<text x="643.70" y="375.60" font-size="29.94" textLength="30.61" lengthAdjust="spacingAndGlyphs" transform="rotate(-90 643.70 375.60)">72</text>
<text x="643.70" y="460.70" font-size="29.94" textLength="46.31" lengthAdjust="spacingAndGlyphs" transform="rotate(-90 643.70 460.70)">228</text>
<text x="1115.00" y="828.10" font-size="29.23" textLength="30.51" lengthAdjust="spacingAndGlyphs" transform="rotate(-90 1115.00 828.10)">50</text>
<text x="1162.60" y="869.80" font-size="29.66" textLength="30.51" lengthAdjust="spacingAndGlyphs" transform="rotate(-90 1162.60 869.80)">72</text>
<text x="1162.60" y="967.00" font-size="29.66" textLength="46.31" lengthAdjust="spacingAndGlyphs" transform="rotate(-90 1162.60 967.00)">228</text>
<text x="945.00" y="1064.40" font-size="30.52" textLength="29.81" lengthAdjust="spacingAndGlyphs" transform="rotate(-90 945.00 1064.40)">50</text>
<ellipse cx="362.45" cy="15.8" rx="9.65" ry="9.4" style="stroke:#262626;stroke-width:2;fill:none"/>
<line x1="352.5" y1="25.9" x2="372.2" y2="6" style="stroke:#262626;stroke-width:1.9"/>
<text x="378.30" y="26.40" font-size="29.94" textLength="47.61" lengthAdjust="spacingAndGlyphs">350</text>
<ellipse cx="253.65" cy="732.15" rx="8.35" ry="9.65" style="stroke:#262626;stroke-width:2;fill:none"/>
<line x1="247.7" y1="746.9" x2="259.6" y2="718" style="stroke:#262626;stroke-width:1.9"/>
<text x="274.00" y="742.80" font-size="29.51" textLength="48.21" lengthAdjust="spacingAndGlyphs">200</text>
<ellipse cx="252.35" cy="773.55" rx="8.35" ry="9.55" style="stroke:#262626;stroke-width:2;fill:none"/>
<line x1="246.4" y1="788.3" x2="258.3" y2="759.2" style="stroke:#262626;stroke-width:1.9"/>
<text x="272.00" y="783.70" font-size="29.66" textLength="47.11" lengthAdjust="spacingAndGlyphs">160</text>
<ellipse cx="253.7" cy="818.9" rx="8.2" ry="9.7" style="stroke:#262626;stroke-width:2;fill:none"/>
<line x1="247.6" y1="833.4" x2="259.8" y2="804.7" style="stroke:#262626;stroke-width:1.9"/>
<text x="274.00" y="828.80" font-size="29.51" textLength="46.61" lengthAdjust="spacingAndGlyphs">132</text>
<ellipse cx="187.6" cy="932.95" rx="9.4" ry="8.15" style="stroke:#262626;stroke-width:2;fill:none"/>
<line x1="173.1" y1="926.8" x2="202.6" y2="939" style="stroke:#262626;stroke-width:1.9"/>
<text x="198.00" y="989.50" font-size="29.08" textLength="36.70" lengthAdjust="spacingAndGlyphs" transform="rotate(-90 198.00 989.50)">8 x</text>
<text x="198.00" y="912.60" font-size="29.08" textLength="29.61" lengthAdjust="spacingAndGlyphs" transform="rotate(-90 198.00 912.60)">19</text>
<ellipse cx="798.2" cy="1056.5" rx="9.4" ry="7.7" style="stroke:#262626;stroke-width:2;fill:none"/>
<line x1="783.4" y1="1050.3" x2="812.6" y2="1062.4" style="stroke:#262626;stroke-width:1.9"/>
<text x="808.60" y="1042.90" font-size="30.37" textLength="29.21" lengthAdjust="spacingAndGlyphs" transform="rotate(-90 808.60 1042.90)">18</text>
</svg></body></html>
